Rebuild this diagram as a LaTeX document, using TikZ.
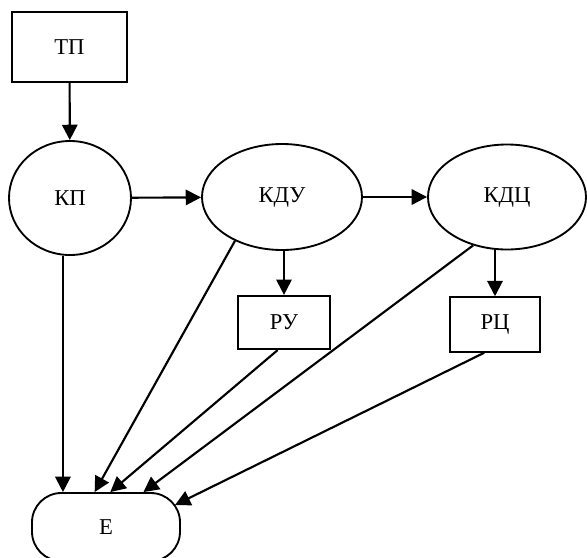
\documentclass[tikz,border=0pt]{standalone}
\usepackage{fontspec}
\setmainfont{Liberation Serif}
\usepackage{tikz}
\usetikzlibrary{positioning,arrows.meta,shapes.geometric,calc}

\begin{document}
\begin{tikzpicture}[
  x=0.75pt, y=-0.75pt,
  font=\fontsize{17}{20}\selectfont,
  blok/.style={draw, line width=1.4pt, inner sep=0pt},
  oval/.style={draw, ellipse, line width=1.4pt, inner sep=0pt},
  arr/.style={-{Triangle[length=11.5pt,width=11.5pt]}, line width=1.6pt}
]
\useasboundingbox (0,0) rectangle (587,558);
\node[blok, minimum width=86pt, minimum height=52pt] (tp) at (69.5,47) {ТП};
\node[oval, minimum width=91.5pt, minimum height=85.5pt] (kp) at (70,198) {КП};
\node[oval, minimum width=120pt, minimum height=79.5pt] (kdu) at (282,197) {КДУ};
\node[oval, minimum width=118.5pt, minimum height=78.75pt] (kdc) at (507,197) {КДЦ};
\node[blok, minimum width=69pt, minimum height=40pt] (ru) at (284,322.5) {РУ};
\node[blok, minimum width=68pt, minimum height=41pt] (rc) at (495,324.5) {РЦ};
\node[blok, rounded corners=22pt, minimum width=111pt, minimum height=51pt] (e) at (106,527) {Е};
\draw[arr] (tp) -- (kp);
\draw[arr] (kp) -- (kdu);
\draw[arr] (kdu) -- (kdc);
\draw[arr] (ru.north |- kdu.south) -- (ru.north);
\draw[arr] (rc.north |- kdc.south) -- (rc.north);
\draw[arr] (kp.263) -- (kp.263 |- e.north);
\draw[arr] (kdu.223) -- (e.108);
\draw[arr] (ru.257) -- (e.83);
\draw[arr] (kdc.235) -- (e.43);
\draw[arr] (rc.249) -- ($(e.center)+(69,-22)$);
\end{tikzpicture}
\end{document}
